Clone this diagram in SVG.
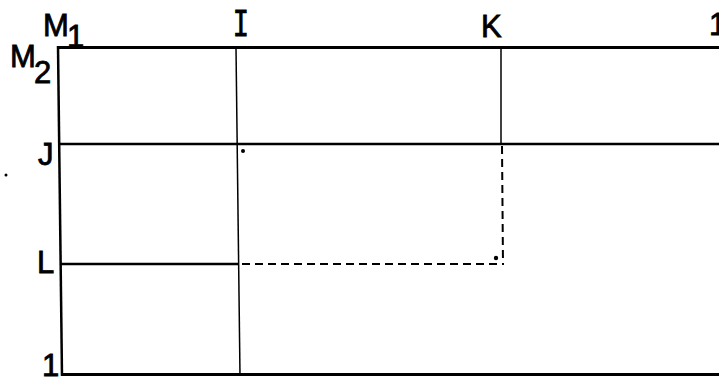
<svg xmlns="http://www.w3.org/2000/svg" width="719" height="380" viewBox="0 0 719 380">
<style>
.lbl{font-family:"Liberation Sans","DejaVu Sans",Arial,sans-serif;font-size:31px;fill:#000;stroke:#000;stroke-width:0.8}
.ser{font-family:"DejaVu Sans Mono","Liberation Mono",monospace;font-size:36px;fill:#000;stroke:#000;stroke-width:0.8}
.ln{stroke:#000;fill:none;stroke-linecap:butt}
.thick{stroke-width:3}
.med{stroke-width:2.5}
.thin{stroke-width:1.5}
.dash{stroke-width:2;stroke-dasharray:8 5}
</style>
<rect width="719" height="380" fill="#fff"/>
<g id="connectors">
  <line class="ln thick" x1="57" y1="47.5" x2="719" y2="47.5"/>
  <line class="ln med" x1="58" y1="46" x2="62" y2="376"/>
  <line class="ln med" x1="58" y1="144" x2="719" y2="144"/>
  <line class="ln thin" x1="236" y1="48" x2="240" y2="375"/>
  <line class="ln thin" x1="501" y1="48" x2="501" y2="144"/>
  <line class="ln dash" x1="502" y1="146" x2="503" y2="265"/>
  <line class="ln med" x1="60" y1="264" x2="238" y2="264"/>
  <line class="ln dash" x1="242" y1="264" x2="503" y2="264"/>
  <line class="ln thick" x1="61" y1="374.5" x2="719" y2="374.5"/>
</g>
<g id="points">
  <circle cx="243" cy="151" r="2" fill="#000"/>
  <circle cx="496" cy="258" r="2.2" fill="#000"/>
  <circle cx="6" cy="175" r="1.5" fill="#000"/>
</g>
<g id="labels">
  <g id="M1"><text class="lbl" x="43" y="36">M</text><text class="lbl" x="67" y="47">1</text></g>
  <g id="M2"><text class="lbl" x="10" y="67">M</text><text class="lbl" x="34" y="83">2</text></g>
  <g id="I"><text class="ser" x="241" y="36" text-anchor="middle" transform="translate(241 0) scale(0.75 1) translate(-241 0)">I</text></g>
  <g id="K"><text class="lbl" x="481" y="37">K</text></g>
  <g id="one-top"><text class="lbl" x="709" y="35">1</text></g>
  <g id="J"><text class="lbl" x="38" y="165">J</text></g>
  <g id="L"><text class="lbl" x="37" y="273">L</text></g>
  <g id="one-bottom"><text class="lbl" x="42" y="376">1</text></g>
</g>
</svg>
